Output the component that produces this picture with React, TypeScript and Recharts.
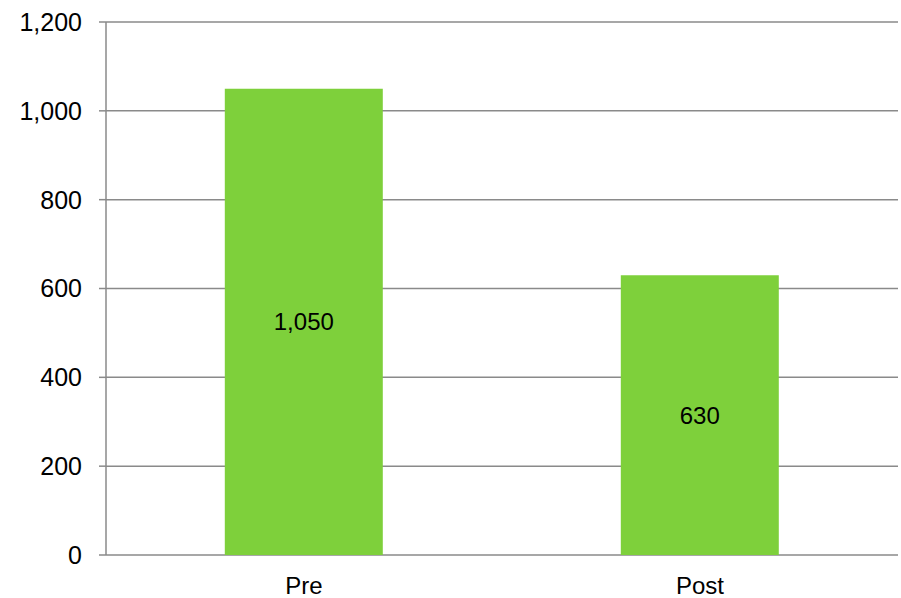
import { BarChart, Bar, XAxis, YAxis, CartesianGrid, LabelList } from 'recharts'

const categories = ['Pre', 'Post']
const values = [1050, 630]
const yTicks = [0, 200, 400, 600, 800, 1000, 1200]

const data = categories.map((c, i) => ({ name: c, value: values[i] }))

const fmt = (v: number) => v.toLocaleString('en-US')
const font = 'Liberation Sans, Arial, sans-serif'
const axisGray = '#8a8a8a'

export default function App() {
  return (
    <div style={{ position: 'absolute', left: 0, top: 0, background: '#fff' }}>
      <BarChart
        width={901}
        height={598}
        data={data}
        margin={{ top: 22, right: 3, left: 0, bottom: 0 }}
        barCategoryGap="30%"
        style={{ fontFamily: font }}
      >
        <CartesianGrid vertical={false} stroke={axisGray} strokeWidth={1.5} />
        <XAxis
          xAxisId="edges"
          type="number"
          domain={[0, 2]}
          ticks={[0, 1, 2]}
          tick={false}
          height={0}
          tickSize={8}
          axisLine={{ stroke: axisGray, strokeWidth: 1.5 }}
          tickLine={{ stroke: axisGray, strokeWidth: 1.5 }}
        />
        <XAxis
          dataKey="name"
          height={43}
          axisLine={false}
          tickLine={false}
          tickSize={0}
          tickMargin={22}
          tick={{ fontSize: 24, fill: '#000', fontFamily: font }}
        />
        <YAxis
          width={106}
          domain={[0, 1200]}
          ticks={yTicks}
          tickFormatter={fmt}
          tickSize={7}
          tickMargin={17}
          tick={{ fontSize: 25, fill: '#000', fontFamily: font }}
          axisLine={{ stroke: axisGray, strokeWidth: 1.5 }}
          tickLine={{ stroke: axisGray, strokeWidth: 1.5 }}
        />
        <Bar dataKey="value" fill="#7ED03B" isAnimationActive={false}>
          <LabelList
            dataKey="value"
            position="center"
            formatter={(v: any) => fmt(Number(v))}
            style={{ fontSize: 24, fill: '#000', fontFamily: font }}
          />
        </Bar>
      </BarChart>
    </div>
  )
}
